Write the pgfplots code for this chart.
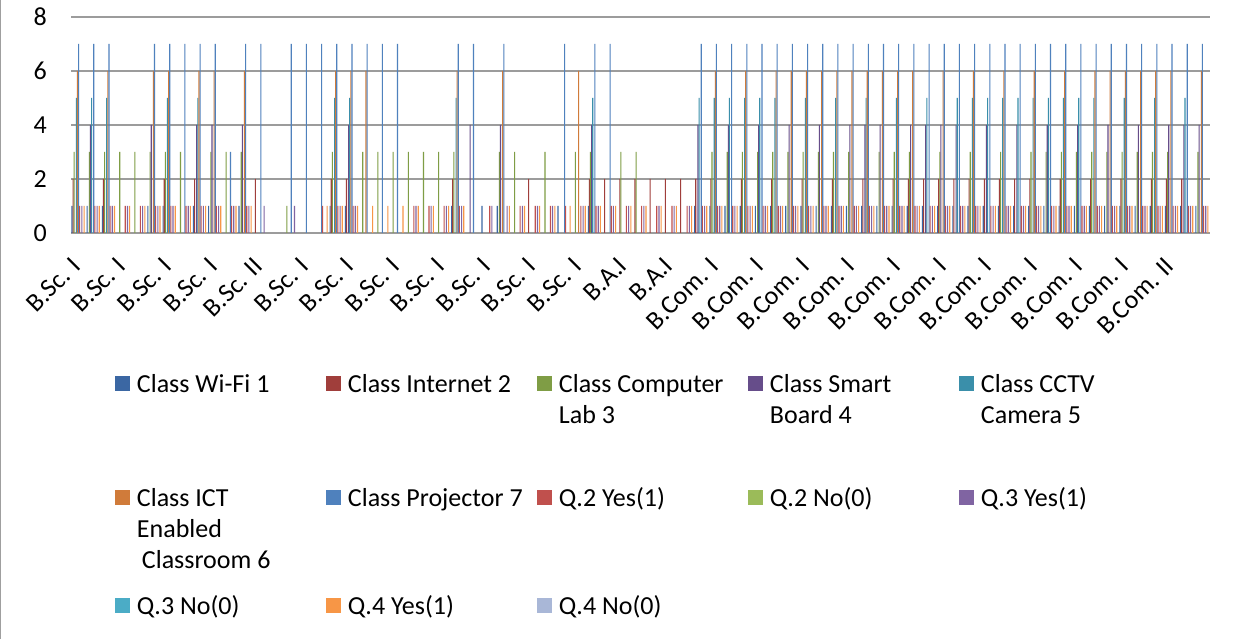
\documentclass[border=0pt]{standalone}
\usepackage{pgfplots}
\usepackage{pgfplotstable}
\pgfplotsset{compat=1.18}
\usepackage{fontspec}
\setmainfont{Carlito}
\definecolor{c1}{HTML}{3B67A3}
\definecolor{c2}{HTML}{A03E3B}
\definecolor{c3}{HTML}{7F9D45}
\definecolor{c4}{HTML}{664D8A}
\definecolor{c5}{HTML}{3A8FAA}
\definecolor{c6}{HTML}{D07B3A}
\definecolor{c7}{HTML}{4F81BD}
\definecolor{c8}{HTML}{C0504D}
\definecolor{c9}{HTML}{9BBB59}
\definecolor{c10}{HTML}{8064A2}
\definecolor{c11}{HTML}{4BACC6}
\definecolor{c12}{HTML}{F79646}
\definecolor{c13}{HTML}{A9B7D7}
\definecolor{gridgray}{HTML}{9C9C9C}

\pgfplotstableread{
k w i c s v t p a b d e f g
0 1 2 3 0 5 6 7 1 0 1 0 1 0
1 1 0 3 4 5 0 7 1 0 1 0 1 0
2 1 2 3 0 5 6 7 1 0 1 0 1 0
3 0 0 3 0 0 0 0 1 0 1 0 1 0
4 0 0 3 0 0 0 0 1 0 1 0 1 0
5 1 0 3 4 0 6 7 1 0 1 0 1 0
6 1 2 3 0 5 6 7 1 0 1 0 1 0
7 0 0 3 0 0 0 7 1 0 1 0 1 0
8 1 2 0 4 5 6 7 1 0 1 0 1 0
9 1 0 3 4 0 6 7 1 0 1 0 1 0
10 0 0 3 0 0 0 3 1 0 1 0 1 0
11 1 0 3 4 0 6 7 1 0 1 0 1 0
12 0 2 0 0 0 0 7 0 0 1 0 0 0
13 0 0 0 0 0 0 0 0 0 0 0 0 0
14 0 0 1 0 0 0 7 0 0 1 0 0 0
15 0 0 0 0 0 0 7 0 0 0 0 0 0
16 0 0 0 0 0 0 7 1 0 0 0 1 0
17 1 2 3 0 5 6 7 1 0 1 0 1 0
18 1 2 0 4 5 6 7 1 0 1 0 1 0
19 0 0 3 0 0 6 7 0 0 0 0 1 0
20 0 0 3 0 0 0 7 0 0 0 0 1 0
21 0 0 3 0 0 0 7 0 0 0 0 1 0
22 0 0 3 0 0 0 0 1 0 1 0 1 0
23 0 0 3 0 0 0 0 1 0 1 0 1 0
24 0 0 3 0 0 0 0 1 0 1 0 1 0
25 1 2 3 0 5 6 7 1 0 1 0 1 0
26 0 0 0 4 0 0 7 0 0 0 0 0 0
27 1 0 0 0 0 0 0 1 0 1 0 0 0
28 1 0 3 4 0 6 7 0 0 1 0 1 0
29 0 0 3 0 0 0 0 1 0 1 0 1 0
30 0 2 0 0 0 0 0 1 0 1 0 1 0
31 0 0 3 0 0 0 0 1 0 1 0 1 0
32 1 0 0 0 0 0 7 1 0 0 0 1 0
33 0 0 3 0 0 6 0 1 0 1 0 1 0
34 1 2 3 4 5 0 7 1 0 1 0 1 0
35 0 2 0 0 0 0 7 1 0 1 0 1 0
36 0 2 3 0 0 0 0 1 0 1 0 1 0
37 0 2 3 0 0 0 0 1 0 1 0 1 0
38 0 2 0 0 0 0 0 1 0 1 0 1 0
39 0 2 0 0 0 0 0 1 0 1 0 1 0
40 0 2 0 0 0 0 0 1 0 1 0 1 0
41 1 2 0 4 5 0 7 1 0 1 0 1 0
42 1 2 3 0 5 6 7 1 0 1 0 1 0
43 1 0 3 4 5 0 7 1 0 1 0 1 0
44 1 2 3 0 5 6 7 1 0 1 0 1 0
45 1 0 3 4 5 0 7 1 0 1 0 1 0
46 1 2 3 0 5 6 7 1 0 1 0 1 0
47 1 0 3 4 0 6 7 1 0 1 0 1 0
48 1 2 3 0 5 6 7 1 0 1 0 1 0
49 1 0 3 4 0 6 7 1 0 1 0 1 0
50 1 2 3 0 5 6 7 1 0 1 0 1 0
51 1 0 3 4 0 6 7 1 0 1 0 1 0
52 1 2 0 4 5 6 7 1 0 1 0 1 0
53 1 0 3 4 0 6 7 1 0 1 0 1 0
54 1 2 3 0 5 6 7 1 0 1 0 1 0
55 1 2 3 4 0 6 7 1 0 1 0 1 0
56 1 2 0 4 5 0 7 1 0 1 0 1 0
57 1 2 3 4 0 6 7 1 0 1 0 1 0
58 1 2 0 4 5 0 7 1 0 1 0 1 0
59 1 2 3 0 5 6 7 1 0 1 0 1 0
60 1 2 0 4 5 0 7 1 0 1 0 1 0
61 1 2 3 0 5 6 7 1 0 1 0 1 0
62 1 2 0 4 5 0 7 1 0 1 0 1 0
63 1 2 3 0 5 6 7 1 0 1 0 1 0
64 1 0 3 4 5 0 7 1 0 1 0 1 0
65 1 2 3 0 5 6 7 1 0 1 0 1 0
66 1 0 3 4 5 0 7 1 0 1 0 1 0
67 1 2 3 0 5 6 7 1 0 1 0 1 0
68 1 0 3 4 0 6 7 1 0 1 0 1 0
69 1 2 3 0 5 6 7 1 0 1 0 1 0
70 1 0 3 4 0 6 7 1 0 1 0 1 0
71 1 2 3 0 5 6 7 1 0 1 0 1 0
72 1 2 3 4 0 6 7 1 0 1 0 1 0
73 1 2 0 4 5 0 7 1 0 1 0 1 0
74 1 0 3 4 0 6 7 1 0 1 0 1 0
}\data

\pgfplotsset{sw/.style={legend image code/.code={\fill[##1,draw=none] (0bp,1bp) rectangle (15bp,16bp);}}}
\newcommand\LA[1]{\parbox[t]{181bp}{\raggedright #1}\rule[-95bp]{0pt}{20bp}}
\newcommand\LB[1]{\parbox[t]{181bp}{\raggedright #1}\rule[-89bp]{0pt}{20bp}}
\newcommand\LC[1]{\parbox[t]{181bp}{\raggedright #1}\rule[-8bp]{0pt}{20bp}}

\begin{document}
\begin{tikzpicture}
\useasboundingbox (0,0) rectangle (1252bp,639bp);
\fill[white] (0,0) rectangle (1252bp,639bp);
\draw[color=gray!75, line width=1.2bp] (0.6bp,0) -- (0.6bp,639bp);
\begin{axis}[
  at={(71bp,406bp)}, anchor=south west,
  scale only axis, width=1139bp, height=216bp,
  ybar=0pt, bar width=1.1bp,
  xmin=-0.5, xmax=74.5, ymin=0, ymax=8,
  enlarge x limits=false, enlarge y limits=false,
  ytick={0,2,4,6,8},
  xtick={0,3,...,72},
  xticklabels={B.Sc. I,B.Sc. I,B.Sc. I,B.Sc. I,B.Sc. II,B.Sc. I,B.Sc. I,B.Sc. I,B.Sc. I,B.Sc. I,B.Sc. I,B.Sc. I,B.A.I,B.A.I,B.Com. I,B.Com. I,B.Com. I,B.Com. I,B.Com. I,B.Com. I,B.Com. I,B.Com. I,B.Com. I,B.Com. I,B.Com. II},
  ymajorgrids, grid style={draw=gridgray, line width=1.6bp},
  axis line style={draw=none}, major tick length=0pt,
  /pgf/number format/assume math mode=true,
  yticklabel style={font=\fontsize{26bp}{30bp}\selectfont, anchor=east, inner sep=0pt, xshift=-24bp},
  xticklabel style={font=\fontsize{26bp}{30bp}\selectfont, rotate=45, anchor=north east, inner sep=0pt, xshift=-22bp, yshift=-10bp},
  legend columns=5,
  legend style={at={(0.0386,-0.6528)}, anchor=north west, draw=none, fill=none,
    inner sep=0pt, outer sep=0pt, font=\fontsize{26bp}{31bp}\selectfont,
    cells={anchor=base west}, nodes={inner sep=0pt, text depth=, text height=},
    /tikz/every odd column/.append style={column sep=7bp},
    /tikz/every even column/.append style={column sep=8bp}},
]
\addplot[fill=c1, draw=none, sw] table[x=k,y=w]{\data};
\addlegendentry{\LA{Class Wi-Fi 1}}
\addplot[fill=c2, draw=none, sw] table[x=k,y=i]{\data};
\addlegendentry{\LA{Class Internet 2}}
\addplot[fill=c3, draw=none, sw] table[x=k,y=c]{\data};
\addlegendentry{\LA{Class Computer Lab 3}}
\addplot[fill=c4, draw=none, sw] table[x=k,y=s]{\data};
\addlegendentry{\LA{Class Smart Board 4}}
\addplot[fill=c5, draw=none, sw] table[x=k,y=v]{\data};
\addlegendentry{\LA{Class CCTV Camera 5}}
\addplot[fill=c6, draw=none, sw] table[x=k,y=t]{\data};
\addlegendentry{\LB{Class ICT\\Enabled\\\hspace*{5bp}Classroom 6}}
\addplot[fill=c7, draw=none, sw] table[x=k,y=p]{\data};
\addlegendentry{\LB{Class Projector 7}}
\addplot[fill=c8, draw=none, sw] table[x=k,y=a]{\data};
\addlegendentry{\LB{Q.2 Yes(1)}}
\addplot[fill=c9, draw=none, sw] table[x=k,y=b]{\data};
\addlegendentry{\LB{Q.2 No(0)}}
\addplot[fill=c10, draw=none, sw] table[x=k,y=d]{\data};
\addlegendentry{\LB{Q.3 Yes(1)}}
\addplot[fill=c11, draw=none, sw] table[x=k,y=e]{\data};
\addlegendentry{\LC{Q.3 No(0)}}
\addplot[fill=c12, draw=none, sw] table[x=k,y=f]{\data};
\addlegendentry{\LC{Q.4 Yes(1)}}
\addplot[fill=c13, draw=none, sw] table[x=k,y=g]{\data};
\addlegendentry{\LC{Q.4 No(0)}}
\end{axis}
\end{tikzpicture}
\end{document}
